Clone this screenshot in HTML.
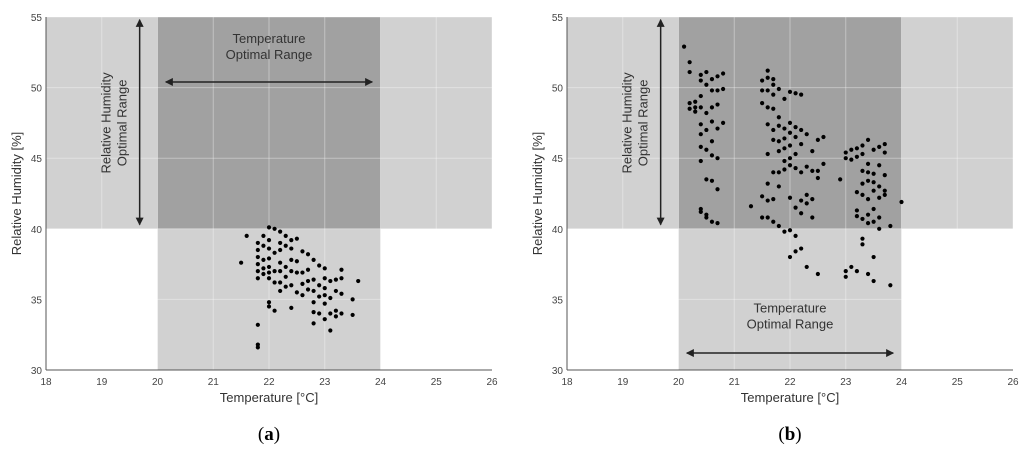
<!DOCTYPE html>
<html><head><meta charset="utf-8"><style>
body{margin:0;background:#fff;width:1024px;height:451px;overflow:hidden}
svg{font-family:"Liberation Sans",sans-serif}
</style></head><body>
<svg id="svg" width="1024" height="451"></svg>
<script>
const xTicks=[18,19,20,21,22,23,24,25,26];
const yTicks=[30,35,40,45,50,55];
// panel (a) data: [temperature, humidity]
const tempA=[21.5,21.6,21.8,21.8,21.8,21.8,21.8,21.8,21.8,21.8,21.8,21.9,21.9,21.9,21.9,21.9,22.0,22.0,22.0,22.0,22.0,22.0,22.0,22.0,22.0,22.1,22.1,22.1,22.1,22.1,22.2,22.2,22.2,22.2,22.2,22.2,22.2,22.3,22.3,22.3,22.3,22.3,22.4,22.4,22.4,22.4,22.4,22.4,22.5,22.5,22.5,22.5,22.6,22.6,22.6,22.6,22.7,22.7,22.7,22.7,22.8,22.8,22.8,22.8,22.8,22.8,22.9,22.9,22.9,22.9,23.0,23.0,23.0,23.0,23.0,23.0,23.1,23.1,23.1,23.1,23.2,23.2,23.2,23.2,23.3,23.3,23.3,23.3,23.5,23.5,23.6];
const humA=[37.6,39.5,39,38.5,38,37.5,37,36.5,33.2,31.8,31.6,39.5,38.8,37.8,37.2,36.8,40.1,39.2,38.6,37.9,37.3,36.9,36.5,34.8,34.5,40,38.3,37,36.2,34.2,39.8,39,38.5,37.6,37,36.2,35.6,39.5,38.8,37.3,36.6,35.9,39.2,38.6,37.8,37,36,34.4,39.3,37.7,36.9,35.5,38.4,36.9,36.1,35.3,38.2,37.1,36.3,35.7,37.8,36.4,35.6,34.8,34.1,33.3,37.4,36,35.2,34,37.2,36.5,35.8,35.3,34.7,33.6,36.3,35.1,34,32.8,36.4,35.6,34.2,33.8,37.1,36.5,35.4,34,35,33.9,36.3];
// panel (b)
const tempB=[20.1,20.2,20.2,20.2,20.2,20.3,20.3,20.3,20.4,20.4,20.4,20.4,20.4,20.4,20.4,20.4,20.4,20.4,20.5,20.5,20.5,20.5,20.5,20.5,20.5,20.5,20.6,20.6,20.6,20.6,20.6,20.6,20.6,20.6,20.7,20.7,20.7,20.7,20.7,20.7,20.7,20.8,20.8,20.8,21.3,21.5,21.5,21.5,21.5,21.5,21.6,21.6,21.6,21.6,21.6,21.6,21.6,21.6,21.6,21.7,21.7,21.7,21.7,21.7,21.7,21.7,21.7,21.7,21.8,21.8,21.8,21.8,21.8,21.8,21.8,21.8,21.9,21.9,21.9,21.9,21.9,21.9,21.9,22.0,22.0,22.0,22.0,22.0,22.0,22.0,22.0,22.0,22.1,22.1,22.1,22.1,22.1,22.1,22.1,22.1,22.2,22.2,22.2,22.2,22.2,22.2,22.2,22.3,22.3,22.3,22.3,22.3,22.4,22.4,22.4,22.4,22.5,22.5,22.5,22.5,22.6,22.6,22.9,23.0,23.0,23.0,23.0,23.1,23.1,23.1,23.2,23.2,23.2,23.2,23.2,23.2,23.3,23.3,23.3,23.3,23.3,23.3,23.3,23.3,23.4,23.4,23.4,23.4,23.4,23.4,23.4,23.4,23.5,23.5,23.5,23.5,23.5,23.5,23.5,23.5,23.6,23.6,23.6,23.6,23.6,23.6,23.7,23.7,23.7,23.7,23.7,23.8,23.8,24.0];
const humB=[52.9,51.8,51.1,48.9,48.5,49,48.6,48.3,50.9,50.5,49.4,48.6,47.4,46.7,45.8,44.8,41.4,41.2,51.1,50.2,48.2,47,45.6,43.5,41,40.8,50.6,49.8,48.6,47.6,46.2,45.2,43.4,40.5,50.8,49.8,48.8,47.1,45,42.8,40.4,51,49.9,47.5,41.6,50.5,49.8,48.9,42.3,40.8,51.2,50.7,49.8,48.6,47.4,45.3,43.2,42,40.8,50.6,50.2,49.5,48.5,47,46.3,44,42.1,40.5,49.9,47.9,47.3,46.2,45.5,44,43,40.2,49.2,47.1,46.4,45.7,44.8,44.2,39.8,49.7,47.5,46.8,45.9,45,44.5,42.2,39.9,38,49.6,47.2,46.5,45.3,44.3,41.5,39.5,38.4,49.5,47,46,44,42,41.1,38.6,46.7,44.4,42.4,41.8,37.3,45.5,44.1,42.1,40.8,46.3,44.1,43.6,36.8,46.5,44.6,43.5,45.4,45,37,36.6,45.6,44.9,37.3,45.7,45.1,42.6,41.3,40.9,37,45.9,45.3,44.1,43.2,42.4,40.7,39.3,38.9,46.3,44.6,44,43.4,42.1,41,40.4,36.8,45.6,43.9,43.3,42.7,41.4,40.5,38,36.3,45.8,44.5,43,42.2,40.8,40,46,45.4,43.8,42.7,42.4,40.2,36,41.9];
const NS='http://www.w3.org/2000/svg';
const svg=document.getElementById('svg');
function el(t,a,p){const e=document.createElementNS(NS,t);for(const k in a)e.setAttribute(k,a[k]);(p||svg).appendChild(e);return e;}
function txt(s,a,p){const e=el('text',a,p);e.textContent=s;return e;}
const defs=el('defs',{});
const mk=el('marker',{id:'ah',markerWidth:8,markerHeight:8,refX:7,refY:4,orient:'auto-start-reverse',markerUnits:'userSpaceOnUse'},defs);
el('path',{d:'M0,0 L8,4 L0,8 Z',fill:'#222'},mk);
function panel(x0,id,variant){
  const W=446,y0=17,y1=370;
  const X=t=>x0+(t-18)/8*W, Y=h=>y0+(55-h)/25*(y1-y0);
  const g=el('g',{});
  
  
  el('rect',{x:X(18),y:Y(55),width:W,height:Y(40)-Y(55),fill:'#d1d1d1'},g);
  el('rect',{x:X(20),y:Y(40),width:X(24)-X(20),height:Y(30)-Y(40),fill:'#d1d1d1'},g);
  el('rect',{x:X(20),y:Y(55),width:X(24)-X(20),height:Y(40)-Y(55),fill:'#a1a1a1'},g);
  xTicks.forEach(t=>{el('line',{x1:X(t),x2:X(t),y1:y0,y2:y1,stroke:'#fff','stroke-opacity':0.35,'stroke-width':1},g);
    const l=txt(t,{x:X(t),y:y1+15,'font-size':10,fill:'#444','text-anchor':'middle'},g);
    });
  yTicks.forEach(h=>{el('line',{x1:X(18),x2:X(26),y1:Y(h),y2:Y(h),stroke:'#fff','stroke-opacity':0.35,'stroke-width':1},g);
    const l=txt(h,{x:X(18)-4,y:Y(h)+4,'font-size':10,fill:'#444','text-anchor':'end'},g);
    });
  el('line',{x1:X(18),x2:X(18),y1:y0,y2:y1,stroke:'#555'},g);
  el('line',{x1:X(18),x2:X(26),y1:y1,y2:y1,stroke:'#555'},g);
  el('line',{x1:X(19.68),x2:X(19.68),y1:Y(54.8),y2:Y(40.3),stroke:'#222','stroke-width':1.5,'marker-start':'url(#ah)','marker-end':'url(#ah)'},g);
  const rt=txt('',{transform:`translate(${X(19.3)},${Y(47.5)}) rotate(-90)`,'font-size':13,fill:'#333','text-anchor':'middle'},g);
  
  el('tspan',{x:0,dy:-8},rt).textContent='Relative Humidity';
  el('tspan',{x:0,dy:16},rt).textContent='Optimal Range';
  const ay=variant==='a'?Y(50.4):Y(31.2);
  const ty=variant==='a'?Y(52.6):Y(33.5);
  el('line',{x1:X(20.15),x2:X(23.85),y1:ay,y2:ay,stroke:'#222','stroke-width':1.5,'marker-start':'url(#ah)','marker-end':'url(#ah)'},g);
  const tt=txt('',{x:X(22),y:ty-8,'font-size':13,fill:'#333','text-anchor':'middle'},g);
  
  el('tspan',{x:X(22),dy:0},tt).textContent='Temperature';
  el('tspan',{x:X(22),dy:16},tt).textContent='Optimal Range';
  const T=variant==='a'?tempA:tempB, H=variant==='a'?humA:humB;
  T.forEach((t,i)=>{const c=el('circle',{cx:X(t),cy:Y(H[i]),r:2.1,fill:'#000'},g);
    });
  const xl=txt('Temperature [°C]',{x:X(22),y:402,'font-size':13,fill:'#333','text-anchor':'middle'},g);
  
  const yl=txt('Relative Humidity [%]',{transform:`translate(${x0-25},${Y(42.5)}) rotate(-90)`,'font-size':13,fill:'#333','text-anchor':'middle'},g);
  
  const cap=txt('',{x:X(22),y:440,'font-size':19,fill:'#000','text-anchor':'middle','font-family':'Liberation Serif, serif'},g);
  
  el('tspan',{},cap).textContent='(';
  el('tspan',{'font-weight':'bold'},cap).textContent=variant;
  el('tspan',{},cap).textContent=')';
}
panel(46,'a','a');
panel(567,'b','b');
</script>
</body></html>
